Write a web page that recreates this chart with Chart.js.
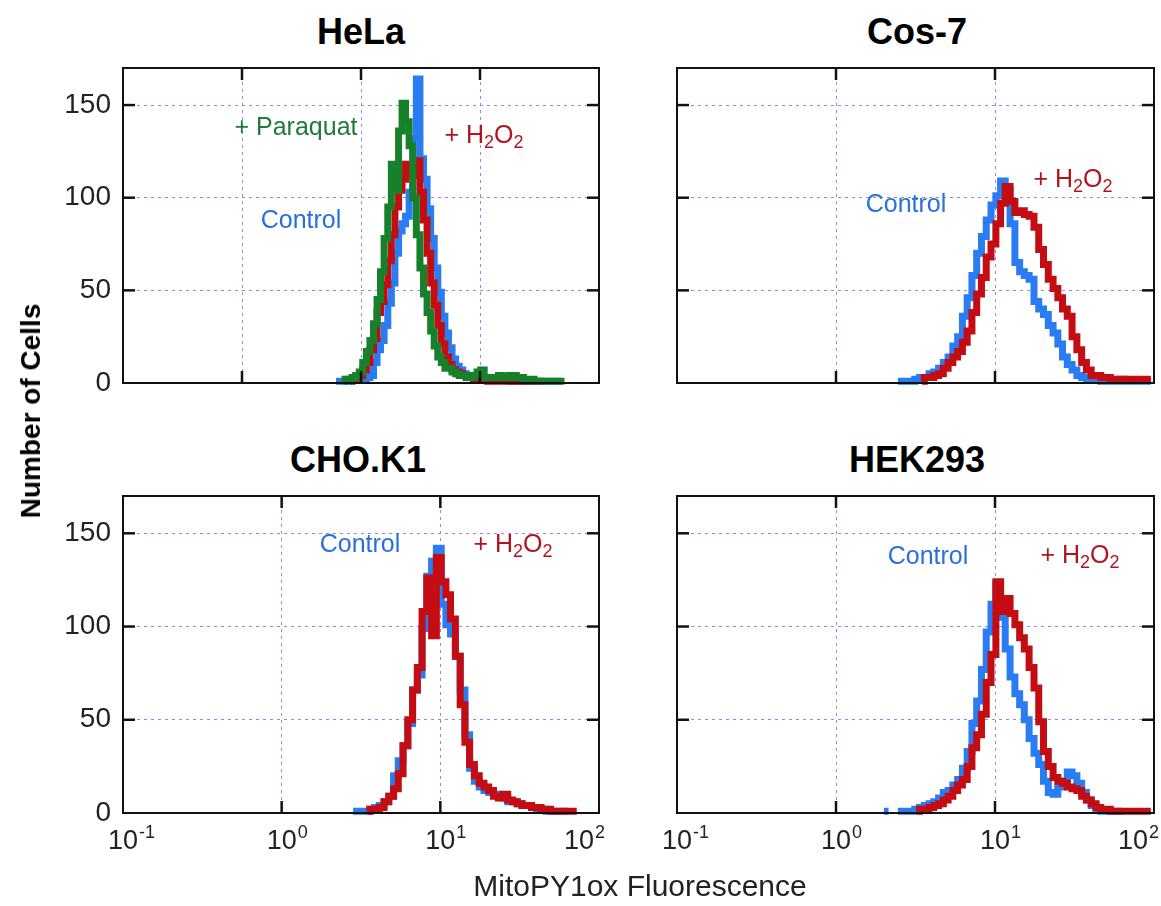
<!DOCTYPE html>
<html>
<head>
<meta charset="utf-8">
<script src="https://cdn.jsdelivr.net/npm/chart.js@4/dist/chart.umd.min.js"></script>
<style>
  html, body { margin:0; padding:0; background:#fff; }
  #wrap { position:relative; width:1161px; height:906px; overflow:hidden; background:#fff;
          font-family:"Liberation Sans", Arial, Helvetica, sans-serif; }
  canvas { position:absolute; }
  .t { position:absolute; transform:translate(-50%,-50%); white-space:nowrap; line-height:1; }
  .title { font-weight:bold; font-size:36px; color:#000; }
  .ann { font-size:25px; }
  .ann sub { font-size:0.72em; vertical-align:-0.28em; line-height:0; }
  .blue { color:#2a6fe0; }
  .red { color:#b01420; }
  .green { color:#217a3c; }
</style>
</head>
<body>
<div id="wrap">
  <canvas id="cHeLa" width="590" height="342" style="left:40px;top:58px"></canvas>
  <canvas id="cCos" width="531" height="342" style="left:630px;top:58px"></canvas>
  <canvas id="cCHO" width="590" height="400" style="left:40px;top:486px"></canvas>
  <canvas id="cHEK" width="531" height="400" style="left:630px;top:486px"></canvas>

  <div class="t title" style="left:361px;top:32px">HeLa</div>
  <div class="t title" style="left:917px;top:32px">Cos-7</div>
  <div class="t title" style="left:358px;top:460px">CHO.K1</div>
  <div class="t title" style="left:917px;top:460px">HEK293</div>

  <div class="t" style="left:31px;top:411px;font-weight:bold;font-size:28px;transform:translate(-50%,-50%) rotate(-90deg)">Number of Cells</div>
  <div class="t" style="left:640px;top:886px;font-size:30px;color:#222">MitoPY1ox Fluorescence</div>

  <div class="t ann green" style="left:296px;top:126px">+ Paraquat</div>
  <div class="t ann red" style="left:484px;top:134px">+ H<sub>2</sub>O<sub>2</sub></div>
  <div class="t ann blue" style="left:301px;top:219px">Control</div>

  <div class="t ann blue" style="left:906px;top:203px">Control</div>
  <div class="t ann red" style="left:1073px;top:178px">+ H<sub>2</sub>O<sub>2</sub></div>

  <div class="t ann blue" style="left:360px;top:543px">Control</div>
  <div class="t ann red" style="left:513px;top:543px">+ H<sub>2</sub>O<sub>2</sub></div>

  <div class="t ann blue" style="left:928px;top:555px">Control</div>
  <div class="t ann red" style="left:1080px;top:554px">+ H<sub>2</sub>O<sub>2</sub></div>
</div>
<script>
// ---------------- data ----------------
// HeLa panel bin centres (fluorescence, a.u.)
const helaBins = [0.617,0.661,0.708,0.759,0.813,0.871,0.933,1.00,1.07,1.15,
  1.23,1.32,1.41,1.51,1.62,1.74,1.86,2.00,2.14,2.29,
  2.45,2.63,2.82,3.02,3.24,3.47,3.72,3.98,4.27,4.57,
  4.90,5.25,5.62,6.03,6.46,6.92,7.41,7.94,8.51,9.12,
  9.77,10.5,11.2,12.0,12.9,13.8,14.8,15.8,17.0,18.2,
  19.5,20.9,22.4,24.0,25.7,27.5,29.5,31.6,33.9,36.3,
  38.9,41.7,44.7,47.9,51.3];
const helaControl = [1,1,1,1,2,2,2,2,2,3,
  4,11,18,23,31,43,54,70,82,86,
  90,103,132,164,121,110,94,78,62,49,
  36,27,19,13,9,7,5,4,4,3,
  3,2,2,2,2,2,2,2,2,1,
  2,1,1,1,1,1,1,1,1,1,
  1,1,1,1,null];
const helaH2O2 = [null,null,null,null,1,2,3,4,7,11,
  18,24,38,44,53,66,80,95,104,110,
  118,113,112,120,103,88,70,54,42,31,
  21,14,10,7,6,5,4,3,3,2,
  2,2,2,1,1,1,1,1,1,1,
  1,1,1,1,1,1,1,1,1,null,
  null,null,null,null,null];
const helaParaquat = [null,null,1,2,2,3,4,6,11,17,
  23,32,45,60,78,95,118,104,136,151,
  141,128,100,80,62,48,38,28,20,14,
  11,8,8,6,5,4,4,3,3,4,
  6,7,3,3,3,3,4,3,3,4,
  4,3,3,2,2,2,1,1,1,1,
  1,1,1,1,1];

// Cos-7 / CHO.K1 / HEK293 bin centres (fluorescence, a.u.)
const bins = [1.86,2.00,2.14,2.29,2.45,2.63,2.82,3.02,3.24,3.47,
  3.72,3.98,4.27,4.57,4.90,5.25,5.62,6.03,6.46,6.92,
  7.41,7.94,8.51,9.12,9.77,10.5,11.2,12.0,12.9,13.8,
  14.8,15.8,17.0,18.2,19.5,20.9,22.4,24.0,25.7,27.5,
  29.5,31.6,33.9,36.3,38.9,41.7,44.7,47.9,51.3,55.0,
  58.9,63.1,67.6,72.4,77.6,83.2,89.1,95.5];
const cosControl = [1,null,1,null,1,1,1,1,2,3,
  3,5,6,8,11,14,20,25,36,46,
  58,70,79,88,96,101,109,104,86,65,
  60,58,56,44,40,37,31,27,21,14,
  10,7,4,3,2,2,2,1,2,1,
  1,2,1,1,1,1,1,1];
const cosH2O2 = [null,null,null,null,null,null,null,null,null,1,
  3,3,4,5,8,11,14,17,22,28,
  38,48,57,68,75,86,97,106,98,92,
  93,91,90,84,72,64,56,51,46,40,
  36,25,18,11,7,4,4,3,3,2,
  2,2,2,2,2,2,2,2];
const choControl = [null,null,null,null,null,null,1,1,1,1,
  2,3,4,6,9,20,28,36,48,66,
  74,99,127,135,142,112,101,96,84,66,
  42,24,17,14,12,11,10,9,8,6,
  6,5,4,4,3,2,2,1,1,1,
  1,1,null,null,null,null,null,null];
const choH2O2 = [null,null,null,null,null,null,null,null,null,1,
  2,2,3,6,9,13,21,36,50,66,
  78,108,126,95,137,124,117,104,84,58,
  38,26,20,16,14,12,9,8,10,7,
  6,5,4,4,3,3,2,2,1,1,
  1,1,1,1,null,null,null,null];
const hekControl = [null,1,1,null,1,1,1,1,2,3,
  4,5,6,8,11,12,15,18,24,33,
  48,60,77,97,112,123,105,88,73,64,
  58,50,40,32,26,17,11,10,14,17,
  22,20,16,11,7,4,2,1,1,1,
  1,1,null,1,null,null,null,null];
const hekH2O2 = [null,null,null,null,null,null,null,null,1,2,
  2,3,4,5,7,9,12,15,18,25,
  35,42,53,70,85,124,108,115,107,101,
  94,88,78,67,49,33,25,19,17,16,
  14,13,12,9,7,5,3,2,2,1,
  1,1,1,1,1,1,1,1];

const xTickValues = [0.1, 1, 10, 100];
const xTickBase = ['10', '10', '10', '10'];
const xTickExp = ['-1', '0', '1', '2'];
const helaTickValues = [0.01, 0.1, 1, 10, 100];
const yTickValues = [0, 50, 100, 150];
const yTickLabels = ['0', '50', '100', '150'];

// ---------------- styling ----------------
const BLUE = '#2a7cf2';
const RED = '#c30d12';
const GREEN = '#16802a';
const GRID = 'rgba(120,120,225,0.85)';
const FONT = '"Liberation Sans", Arial, Helvetica, sans-serif';
Chart.defaults.font.family = FONT;

const frame = {
  id: 'frame',
  afterDraw(chart, args, opts) {
    const {ctx, chartArea: a, scales: {x, y}} = chart;
    const TL = 12;
    ctx.save();
    ctx.strokeStyle = '#111';
    ctx.lineWidth = 2;
    ctx.strokeRect(a.left, a.top, a.right - a.left, a.bottom - a.top);
    ctx.lineWidth = 2.5;
    const seg = (x1, y1, x2, y2) => { ctx.beginPath(); ctx.moveTo(x1, y1); ctx.lineTo(x2, y2); ctx.stroke(); };
    x.ticks.forEach(t => {
      const p = x.getPixelForValue(t.value);
      if (p <= a.left + 2 || p >= a.right - 2) return;
      seg(p, a.bottom, p, a.bottom - TL);
      seg(p, a.top, p, a.top + TL);
    });
    y.ticks.forEach(t => {
      const p = y.getPixelForValue(t.value);
      if (p >= a.bottom - 2 || p <= a.top + 2) return;
      seg(a.left, p, a.left + TL, p);
      seg(a.right, p, a.right - TL, p);
    });
    // x tick labels: "10" centred on the tick, exponent as superscript
    if (opts && opts.xLabels) {
      ctx.fillStyle = '#222';
      ctx.textBaseline = 'alphabetic';
      ctx.textAlign = 'left';
      const baseY = a.bottom + 36;
      const last = xTickValues.length - 1;
      xTickValues.forEach((v, i) => {
        const p = x.getPixelForValue(v);
        const exp = xTickExp[i];
        ctx.font = '27px ' + FONT;
        const w = ctx.measureText(xTickBase[i]).width;
        ctx.font = '18px ' + FONT;
        const we = ctx.measureText(exp).width;
        let left = p - w / 2;
        if (i === last) left = Math.min(p + 6, chart.width - 2) - (w + 1 + we);
        ctx.font = '27px ' + FONT;
        ctx.fillText(xTickBase[i], left, baseY);
        ctx.font = '18px ' + FONT;
        ctx.fillText(exp, left + w + 1, baseY - 11);
      });
    }
    ctx.restore();
  }
};

function series(xs, ys, color) {
  return {
    data: xs.map((x, i) => ({x: x, y: ys[i]})),
    borderColor: color,
    backgroundColor: color,
    borderWidth: 7,
    pointRadius: 0,
    stepped: 'middle',
    fill: false,
    spanGaps: false,
    clip: false,
    borderCapStyle: 'butt',
    borderJoinStyle: 'miter'
  };
}

function noPad(s) { s.paddingTop = 0; s.paddingBottom = 0; s.paddingLeft = 0; s.paddingRight = 0; }

function panel(id, datasets, o) {
  new Chart(document.getElementById(id), {
    type: 'line',
    data: {datasets: datasets},
    plugins: [frame],
    options: {
      responsive: false,
      animation: false,
      devicePixelRatio: 1,
      events: [],
      layout: {padding: {left: 0, right: o.padRight, top: 10, bottom: 0}},
      plugins: {legend: {display: false}, tooltip: {enabled: false}, title: {display: false},
                frame: {xLabels: o.xLabels}},
      scales: {
        x: {
          type: 'logarithmic',
          min: o.xTicks[0],
          max: o.xTicks[o.xTicks.length - 1],
          afterBuildTicks: s => { s.ticks = o.xTicks.map(v => ({value: v})); },
          afterFit: s => { s.height = o.xHeight; noPad(s); },
          grid: {color: GRID, lineWidth: 1, drawTicks: false},
          border: {display: false, dash: [3, 4]},
          ticks: {display: false}
        },
        y: {
          type: 'linear',
          min: 0,
          max: 170,
          afterBuildTicks: s => { s.ticks = yTickValues.map(v => ({value: v})); },
          afterFit: s => { s.width = o.yWidth; noPad(s); },
          grid: {color: GRID, lineWidth: 1, drawTicks: false},
          border: {display: false, dash: [3, 4]},
          ticks: {
            display: o.yLabels,
            padding: 12,
            color: '#222',
            font: {size: 28, family: FONT},
            callback: (v, i) => yTickLabels[i]
          }
        }
      }
    }
  });
}

panel('cHeLa', [
  series(helaBins, helaParaquat, GREEN),
  series(helaBins, helaH2O2, RED),
  series(helaBins, helaControl, BLUE)
], {xTicks: helaTickValues, xLabels: false, yLabels: true, yWidth: 83, padRight: 31, xHeight: 17});

panel('cCos', [
  series(bins, cosH2O2, RED),
  series(bins, cosControl, BLUE)
], {xTicks: xTickValues, xLabels: false, yLabels: false, yWidth: 47, padRight: 7, xHeight: 17});

panel('cCHO', [
  series(bins, choH2O2, RED),
  series(bins, choControl, BLUE)
], {xTicks: xTickValues, xLabels: true, yLabels: true, yWidth: 83, padRight: 31, xHeight: 73});

panel('cHEK', [
  series(bins, hekH2O2, RED),
  series(bins, hekControl, BLUE)
], {xTicks: xTickValues, xLabels: true, yLabels: false, yWidth: 47, padRight: 7, xHeight: 73});
</script>
</body>
</html>
